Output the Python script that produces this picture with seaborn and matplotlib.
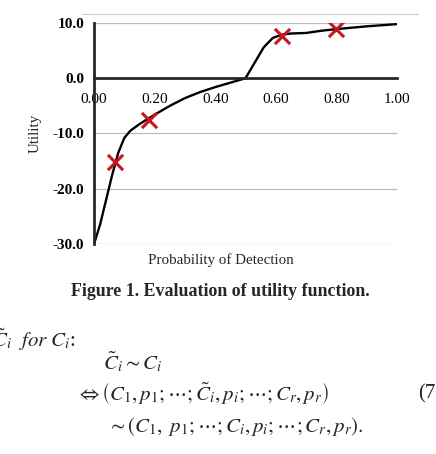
import numpy as np
import pandas as pd
import seaborn as sns
from matplotlib import pyplot as plt
from matplotlib.lines import Line2D

# curve
prob = [0.00, 0.02, 0.04, 0.06, 0.08, 0.10, 0.12, 0.15, 0.20, 0.25, 0.30, 0.35,
        0.40, 0.45, 0.50, 0.53, 0.56, 0.59, 0.62, 0.65, 0.70, 0.75, 0.80, 0.90, 1.00]
utility = [-30.0, -26.5, -22.0, -17.5, -13.5, -10.8, -9.5, -8.3, -6.6, -5.0, -3.6, -2.5,
           -1.6, -0.8, 0.0, 2.8, 5.6, 7.3, 7.9, 8.1, 8.2, 8.6, 8.9, 9.4, 9.8]

# evaluated points (red crosses)
eval_prob = [0.07, 0.18, 0.62, 0.80]
eval_util = [-15.2, -7.6, 7.6, 9.0]

yticks = [10, 0, -10, -20, -30]
xticks = [0.0, 0.2, 0.4, 0.6, 0.8, 1.0]

curve = pd.DataFrame({'p': prob, 'u': utility})
evals = pd.DataFrame({'p': eval_prob, 'u': eval_util})

sns.set_style('white')
plt.rcParams['font.family'] = ['Liberation Serif', 'DejaVu Serif']
plt.rcParams['mathtext.fontset'] = 'stix'

fig = plt.figure(figsize=(4.36, 4.54), dpi=100)
ax = fig.add_axes([0.2156, 0.4626, 0.695, 0.4867])

sns.lineplot(data=curve, x='p', y='u', color='black', linewidth=1.7, sort=False, ax=ax)
sns.scatterplot(data=evals, x='p', y='u', marker='x', color='#c8161d', s=120,
                linewidth=2.2, zorder=5, ax=ax)

# spines first: moving them resets the ticks
ax.spines['left'].set_position(('data', 0))
ax.spines['bottom'].set_position(('data', 0))
ax.spines['left'].set_linewidth(2.0)
ax.spines['bottom'].set_linewidth(2.0)
ax.spines['right'].set_visible(False)
ax.spines['top'].set_visible(False)

ax.set_xlim(0, 1)
ax.set_ylim(-30, 10)
ax.set_yticks(yticks)
ax.set_yticklabels(['%.1f' % v for v in yticks], fontweight='bold', fontsize=11)
ax.set_xticks(xticks)
ax.set_xticklabels(['%.2f' % v for v in xticks], fontsize=11)
ax.tick_params(axis='y', direction='out', length=4, width=2.0, pad=3, colors='black')
ax.tick_params(axis='x', direction='out', length=4, width=1.4, pad=6.5, colors='black')

for v in [10, -10, -20, -30]:
    ax.axhline(v, color='#bbbbbb', linewidth=0.9, zorder=0)

ax.set_xlabel('Probability of Detection', fontsize=10.8)
ax.xaxis.set_label_coords(0.42, -0.04)
ax.set_ylabel('Utility', fontsize=10.8)
ax.yaxis.set_label_coords(-0.172, 0.50)

# faint frame line above the chart
fig.add_artist(Line2D([82 / 436, 418 / 436], [1 - 14 / 454, 1 - 14 / 454],
                      color='#cccccc', linewidth=0.8))

fig.text(0.505, 1 - 291 / 454, 'Figure 1. Evaluation of utility function.',
         ha='center', va='center', fontsize=12.9, fontweight='bold')

fig.text(-8 / 436, 1 - 340 / 454, r'$\tilde{C}_i\ \ for\ C_i$:',
         ha='left', va='center', fontsize=15)
fig.text(103 / 436, 1 - 362 / 454, r'$\tilde{C}_i \sim C_i$',
         ha='left', va='center', fontsize=15)
fig.text(76 / 436, 1 - 394 / 454,
         r'$\Leftrightarrow \left(C_1, p_1;\cdots;\tilde{C}_i, p_i;\cdots;C_r, p_r\right)$',
         ha='left', va='center', fontsize=15)
fig.text(418 / 436, 1 - 394 / 454, '(7)', ha='left', va='center', fontsize=15)
fig.text(107 / 436, 1 - 426 / 454,
         r'$\sim \left(C_1,\ p_1;\cdots;C_i, p_i;\cdots;C_r, p_r\right).$',
         ha='left', va='center', fontsize=15)

fig.savefig('out.png', dpi=100)
